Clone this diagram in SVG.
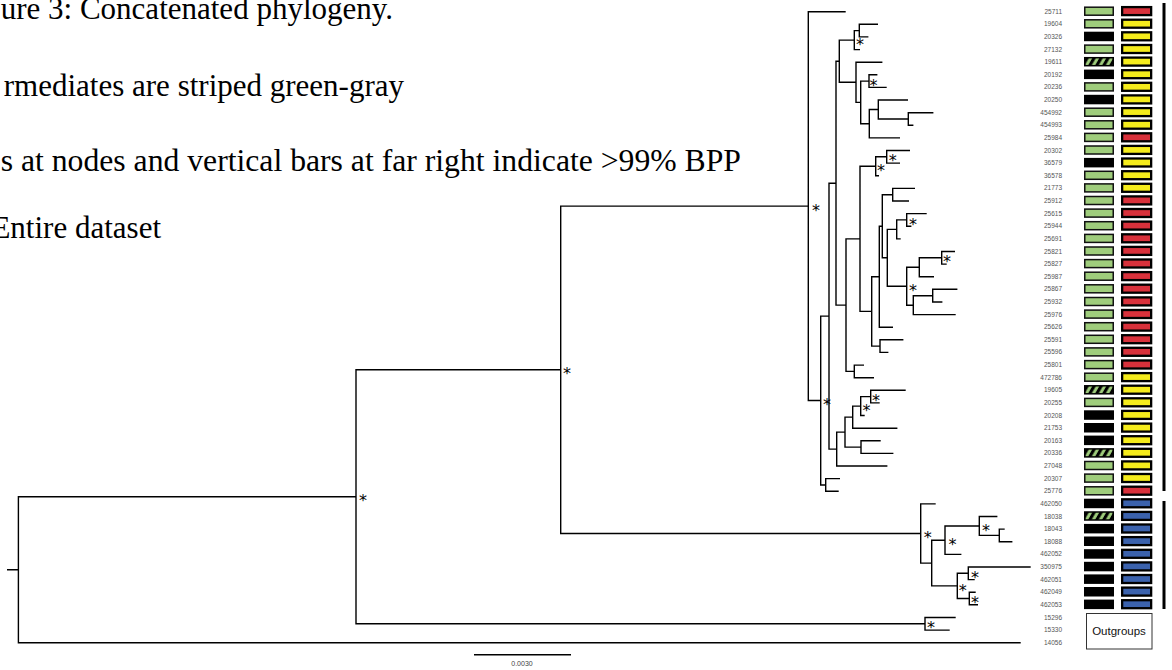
<svg xmlns="http://www.w3.org/2000/svg" xmlns:xlink="http://www.w3.org/1999/xlink" width="1172" height="670" viewBox="0 0 1172 670">
<style>
.hdr{font-family:"Liberation Serif","Times New Roman",serif;font-size:31px;fill:#000}
.br{fill:none;stroke:#000;stroke-width:1.4;stroke-linecap:square}
.ast{font-family:"DejaVu Sans",sans-serif;font-size:16px;fill:#000;text-anchor:middle}
.lab{font-family:"Liberation Sans",Arial,sans-serif;font-size:6.5px;fill:#555;text-anchor:end}
.sc{font-family:"Liberation Sans",Arial,sans-serif;font-size:7px;fill:#444;text-anchor:middle}
.og{font-family:"Liberation Sans",Arial,sans-serif;font-size:11.5px;fill:#111;text-anchor:middle}
</style>
<defs>
<pattern id="stripe" patternUnits="userSpaceOnUse" width="7" height="10" patternTransform="skewX(-30)">
<rect width="7" height="10" fill="#000"/><rect x="1.5" width="3.4" height="10" fill="#9fcd7c"/>
</pattern>
<rect id="cG" x="1084.75" y="-4.5" width="28.5" height="8" fill="#9fcd7c" stroke="#111" stroke-width="1.5"/>
<rect id="cK" x="1084" y="-5.2" width="30" height="9.5" fill="#000"/>
<rect id="cS" x="1084.75" y="-4.5" width="28.5" height="8" fill="url(#stripe)" stroke="#000" stroke-width="1.5"/>
<rect id="cR" x="1122.15" y="-4.6" width="29" height="8" fill="#d8313b" stroke="#000" stroke-width="2.3"/>
<rect id="cY" x="1122.15" y="-4.6" width="29" height="8" fill="#f5ec1c" stroke="#000" stroke-width="2.3"/>
<rect id="cB" x="1122.15" y="-4.6" width="29" height="8" fill="#3b62ad" stroke="#000" stroke-width="2.3"/>
</defs>
<rect width="1172" height="670" fill="#fff"/>

<g id="caption">
<text class="hdr" x="393" y="19" text-anchor="end">ure 3: Concatenated phylogeny.</text>
<text class="hdr" x="404" y="96" text-anchor="end">rmediates are striped green-gray</text>
<text class="hdr" x="741" y="171" text-anchor="end" style="font-size:31.7px">s at nodes and vertical bars at far right indicate &gt;99% BPP</text>
<text class="hdr" x="161" y="238" text-anchor="end">Entire dataset</text>
</g>

<g id="connectors">
<path class="br" d="M7.7,569.8 H18.4 M18.4,496.8 V642.7 M18.4,496.8 H356 M18.4,642.7 H1020
M356,369.8 V623.8 M356,369.8 H560.7 M356,623.8 H925
M925,617.5 V630.1 M925,617.5 H955 M925,630.1 H949
M560.7,206.1 V533.5 M560.7,206.1 H808.3 M560.7,533.5 H920.7
M920.7,503.9 V563.1 M920.7,503.9 H935 M920.7,563.1 H931.7
M931.7,540.2 V585.9 H957.3 M931.7,540.2 H945
M945,526 V554.4 H960.7 M945,526 H979.3
M979.3,516.5 V535.4 H999.3 M979.3,516.5 H996.7
M999.3,529.1 V541.7 H1011.7 M999.3,529.1 H1004
M957.3,573.3 V598.5 H969.3 M957.3,573.3 H968.3
M968.3,567 V579.6 H974 M968.3,567 H1030
M969.3,592.2 V604.8 H977.3 M969.3,592.2 H975
M808.3,11.7 V400.5 H820.7 M808.3,11.7 H845
M820.7,316.1 V485 H825.7 M820.7,316.1 H829
M825.7,478.6 V491.3 H838 M825.7,478.6 H839.3
M829,183.2 V449.1 H836.7 M829,183.2 H836
M836.7,432.1 V466 H886.7 M836.7,432.1 H845
M845,417.1 V447.1 H861 M845,417.1 H852.7
M861,440.8 V453.4 H892.7 M861,440.8 H880
M852.7,406.1 V428.2 H896.7 M852.7,406.1 H860.7
M860.7,396.6 V415.5 H864 M860.7,396.6 H870.7
M870.7,390.3 V402.9 H879 M870.7,390.3 H905
M836,61.2 V305.1 H846 M836,61.2 H839.3
M846,238.9 V371.4 H854.3 M846,238.9 H860
M854.3,365.1 V377.7 H873.3 M854.3,365.1 H863.3
M860,166.3 V311.4 H871.7 M860,166.3 H875.7
M871.7,276.8 V346.1 H880 M871.7,276.8 H879.3
M880,339.8 V352.4 H887.7 M880,339.8 H902.7
M879.3,226.3 V327.2 H892.3 M879.3,226.3 H882.3
M882.3,194.7 V257.8 H887.3 M882.3,194.7 H892.7
M892.7,188.4 V201 H908.3 M892.7,188.4 H914.3
M887.3,229.4 V286.2 H906.7 M887.3,229.4 H896.7
M896.7,219.9 V238.9 H900 M896.7,219.9 H906.7
M906.7,213.6 V226.2 H910.7 M906.7,213.6 H926
M906.7,267.3 V305.2 H913.3 M906.7,267.3 H919.3
M919.3,257.8 V276.7 H933.3 M919.3,257.8 H941.7
M941.7,251.5 V264.1 H946 M941.7,251.5 H954.3
M913.3,295.7 V314.6 H955 M913.3,295.7 H932.7
M932.7,289.3 V302 H941.7 M932.7,289.3 H956.7
M875.7,156.8 V175.8 H878.3 M875.7,156.8 H886.7
M886.7,150.5 V163.1 H899.3 M886.7,150.5 H909.3
M839.3,40.1 V82.3 H856 M839.3,40.1 H854.3
M854.3,30.6 V49.6 H859.3 M854.3,30.6 H859.3
M859.3,24.3 V36.9 H867.7 M859.3,24.3 H877.3
M856,62.2 V102.4 H860.7 M856,62.2 H881.7
M860.7,81.1 V123.7 H869.3 M860.7,81.1 H869
M869,74.8 V87.4 H886 M869,74.8 H876.7
M869.3,109.5 V137.9 H899.3 M869.3,109.5 H878.3
M878.3,100 V119 H908.3 M878.3,100 H907.3
M908.3,112.7 V125.3 H912.7 M908.3,112.7 H932.7"/>
</g>

<g id="support">
<text class="ast" x="363" y="506.4">*</text>
<text class="ast" x="567" y="379.4">*</text>
<text class="ast" x="816" y="215.7">*</text>
<text class="ast" x="827" y="410.1">*</text>
<text class="ast" x="860" y="49.7">*</text>
<text class="ast" x="873.5" y="90.7">*</text>
<text class="ast" x="892.7" y="166.4">*</text>
<text class="ast" x="881" y="175.9">*</text>
<text class="ast" x="913" y="229.5">*</text>
<text class="ast" x="947" y="267.4">*</text>
<text class="ast" x="913" y="295.8">*</text>
<text class="ast" x="876" y="406.2">*</text>
<text class="ast" x="866.5" y="415.7">*</text>
<text class="ast" x="927.7" y="543.1">*</text>
<text class="ast" x="952.5" y="549.8">*</text>
<text class="ast" x="986" y="535.6">*</text>
<text class="ast" x="962.7" y="595.5">*</text>
<text class="ast" x="975" y="582.9">*</text>
<text class="ast" x="975" y="608.1">*</text>
<text class="ast" x="931" y="633.4">*</text>
</g>

<g id="tips">
<g id="t25711" transform="translate(0,11.7)"><text class="lab" x="1062" y="2">25711</text><use xlink:href="#cG"/><use xlink:href="#cR"/></g>
<g id="t19604" transform="translate(0,24.3)"><text class="lab" x="1062" y="2">19604</text><use xlink:href="#cG"/><use xlink:href="#cY"/></g>
<g id="t20326" transform="translate(0,36.9)"><text class="lab" x="1062" y="2">20326</text><use xlink:href="#cK"/><use xlink:href="#cY"/></g>
<g id="t27132" transform="translate(0,49.6)"><text class="lab" x="1062" y="2">27132</text><use xlink:href="#cG"/><use xlink:href="#cY"/></g>
<g id="t19611" transform="translate(0,62.2)"><text class="lab" x="1062" y="2">19611</text><use xlink:href="#cS"/><use xlink:href="#cY"/></g>
<g id="t20192" transform="translate(0,74.8)"><text class="lab" x="1062" y="2">20192</text><use xlink:href="#cK"/><use xlink:href="#cY"/></g>
<g id="t20236" transform="translate(0,87.4)"><text class="lab" x="1062" y="2">20236</text><use xlink:href="#cG"/><use xlink:href="#cY"/></g>
<g id="t20250" transform="translate(0,100)"><text class="lab" x="1062" y="2">20250</text><use xlink:href="#cK"/><use xlink:href="#cY"/></g>
<g id="t454992" transform="translate(0,112.7)"><text class="lab" x="1062" y="2">454992</text><use xlink:href="#cG"/><use xlink:href="#cY"/></g>
<g id="t454993" transform="translate(0,125.3)"><text class="lab" x="1062" y="2">454993</text><use xlink:href="#cG"/><use xlink:href="#cY"/></g>
<g id="t25984" transform="translate(0,137.9)"><text class="lab" x="1062" y="2">25984</text><use xlink:href="#cG"/><use xlink:href="#cR"/></g>
<g id="t20302" transform="translate(0,150.5)"><text class="lab" x="1062" y="2">20302</text><use xlink:href="#cG"/><use xlink:href="#cY"/></g>
<g id="t36579" transform="translate(0,163.1)"><text class="lab" x="1062" y="2">36579</text><use xlink:href="#cK"/><use xlink:href="#cY"/></g>
<g id="t36578" transform="translate(0,175.8)"><text class="lab" x="1062" y="2">36578</text><use xlink:href="#cG"/><use xlink:href="#cY"/></g>
<g id="t21773" transform="translate(0,188.4)"><text class="lab" x="1062" y="2">21773</text><use xlink:href="#cG"/><use xlink:href="#cY"/></g>
<g id="t25912" transform="translate(0,201)"><text class="lab" x="1062" y="2">25912</text><use xlink:href="#cG"/><use xlink:href="#cR"/></g>
<g id="t25615" transform="translate(0,213.6)"><text class="lab" x="1062" y="2">25615</text><use xlink:href="#cG"/><use xlink:href="#cR"/></g>
<g id="t25944" transform="translate(0,226.2)"><text class="lab" x="1062" y="2">25944</text><use xlink:href="#cG"/><use xlink:href="#cR"/></g>
<g id="t25691" transform="translate(0,238.9)"><text class="lab" x="1062" y="2">25691</text><use xlink:href="#cG"/><use xlink:href="#cR"/></g>
<g id="t25821" transform="translate(0,251.5)"><text class="lab" x="1062" y="2">25821</text><use xlink:href="#cG"/><use xlink:href="#cR"/></g>
<g id="t25827" transform="translate(0,264.1)"><text class="lab" x="1062" y="2">25827</text><use xlink:href="#cG"/><use xlink:href="#cR"/></g>
<g id="t25987" transform="translate(0,276.7)"><text class="lab" x="1062" y="2">25987</text><use xlink:href="#cG"/><use xlink:href="#cR"/></g>
<g id="t25867" transform="translate(0,289.3)"><text class="lab" x="1062" y="2">25867</text><use xlink:href="#cG"/><use xlink:href="#cR"/></g>
<g id="t25932" transform="translate(0,302)"><text class="lab" x="1062" y="2">25932</text><use xlink:href="#cG"/><use xlink:href="#cR"/></g>
<g id="t25976" transform="translate(0,314.6)"><text class="lab" x="1062" y="2">25976</text><use xlink:href="#cG"/><use xlink:href="#cR"/></g>
<g id="t25626" transform="translate(0,327.2)"><text class="lab" x="1062" y="2">25626</text><use xlink:href="#cG"/><use xlink:href="#cR"/></g>
<g id="t25591" transform="translate(0,339.8)"><text class="lab" x="1062" y="2">25591</text><use xlink:href="#cG"/><use xlink:href="#cR"/></g>
<g id="t25596" transform="translate(0,352.4)"><text class="lab" x="1062" y="2">25596</text><use xlink:href="#cG"/><use xlink:href="#cR"/></g>
<g id="t25801" transform="translate(0,365.1)"><text class="lab" x="1062" y="2">25801</text><use xlink:href="#cG"/><use xlink:href="#cR"/></g>
<g id="t472786" transform="translate(0,377.7)"><text class="lab" x="1062" y="2">472786</text><use xlink:href="#cG"/><use xlink:href="#cY"/></g>
<g id="t19605" transform="translate(0,390.3)"><text class="lab" x="1062" y="2">19605</text><use xlink:href="#cS"/><use xlink:href="#cY"/></g>
<g id="t20255" transform="translate(0,402.9)"><text class="lab" x="1062" y="2">20255</text><use xlink:href="#cG"/><use xlink:href="#cY"/></g>
<g id="t20208" transform="translate(0,415.5)"><text class="lab" x="1062" y="2">20208</text><use xlink:href="#cK"/><use xlink:href="#cY"/></g>
<g id="t21753" transform="translate(0,428.2)"><text class="lab" x="1062" y="2">21753</text><use xlink:href="#cK"/><use xlink:href="#cY"/></g>
<g id="t20163" transform="translate(0,440.8)"><text class="lab" x="1062" y="2">20163</text><use xlink:href="#cK"/><use xlink:href="#cY"/></g>
<g id="t20336" transform="translate(0,453.4)"><text class="lab" x="1062" y="2">20336</text><use xlink:href="#cS"/><use xlink:href="#cY"/></g>
<g id="t27048" transform="translate(0,466)"><text class="lab" x="1062" y="2">27048</text><use xlink:href="#cG"/><use xlink:href="#cY"/></g>
<g id="t20307" transform="translate(0,478.6)"><text class="lab" x="1062" y="2">20307</text><use xlink:href="#cG"/><use xlink:href="#cY"/></g>
<g id="t25776" transform="translate(0,491.3)"><text class="lab" x="1062" y="2">25776</text><use xlink:href="#cG"/><use xlink:href="#cR"/></g>
<g id="t462050" transform="translate(0,503.9)"><text class="lab" x="1062" y="2">462050</text><use xlink:href="#cK"/><use xlink:href="#cB"/></g>
<g id="t18038" transform="translate(0,516.5)"><text class="lab" x="1062" y="2">18038</text><use xlink:href="#cS"/><use xlink:href="#cB"/></g>
<g id="t18043" transform="translate(0,529.1)"><text class="lab" x="1062" y="2">18043</text><use xlink:href="#cK"/><use xlink:href="#cB"/></g>
<g id="t18088" transform="translate(0,541.7)"><text class="lab" x="1062" y="2">18088</text><use xlink:href="#cK"/><use xlink:href="#cB"/></g>
<g id="t462052" transform="translate(0,554.4)"><text class="lab" x="1062" y="2">462052</text><use xlink:href="#cK"/><use xlink:href="#cB"/></g>
<g id="t350975" transform="translate(0,567)"><text class="lab" x="1062" y="2">350975</text><use xlink:href="#cK"/><use xlink:href="#cB"/></g>
<g id="t462051" transform="translate(0,579.6)"><text class="lab" x="1062" y="2">462051</text><use xlink:href="#cK"/><use xlink:href="#cB"/></g>
<g id="t462049" transform="translate(0,592.2)"><text class="lab" x="1062" y="2">462049</text><use xlink:href="#cK"/><use xlink:href="#cB"/></g>
<g id="t462053" transform="translate(0,604.8)"><text class="lab" x="1062" y="2">462053</text><use xlink:href="#cK"/><use xlink:href="#cB"/></g>
<g id="t15296" transform="translate(0,617.5)"><text class="lab" x="1062" y="2">15296</text></g>
<g id="t15330" transform="translate(0,630.1)"><text class="lab" x="1062" y="2">15330</text></g>
<g id="t14056" transform="translate(0,642.7)"><text class="lab" x="1062" y="2">14056</text></g>
</g>

<g id="outgroups">
<rect x="1086.5" y="613.5" width="65.5" height="35.5" fill="#fff" stroke="#333" stroke-width="1"/>
<text class="og" x="1119" y="635">Outgroups</text>
</g>

<g id="clade-bars">
<rect x="1162.5" y="3" width="3" height="488" fill="#000"/>
<rect x="1162.5" y="501" width="3" height="108" fill="#000"/>
</g>

<g id="scalebar">
<line x1="474" y1="654.7" x2="571" y2="654.7" stroke="#000" stroke-width="1.5"/>
<text class="sc" x="522" y="666">0.0030</text>
</g>
</svg>
